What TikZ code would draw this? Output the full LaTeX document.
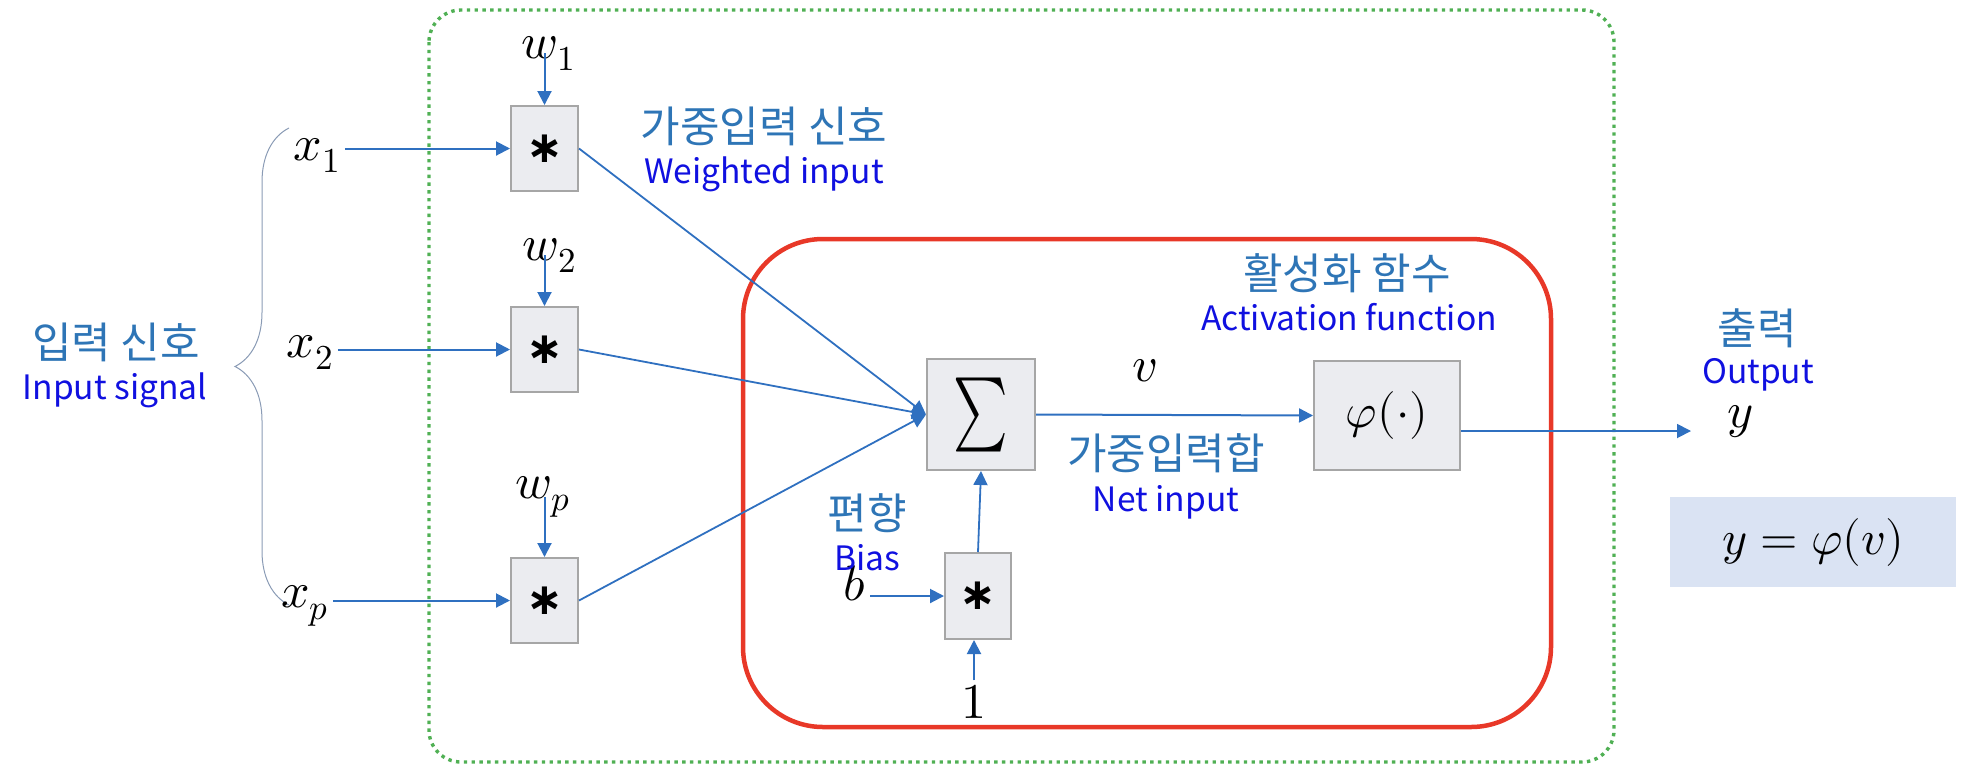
\documentclass[tikz,border=0pt]{standalone}
\usepackage{fontspec}
\usepackage{unicode-math}
\setmathfont{Latin Modern Math}
\newfontfamily\hangul{Noto Sans CJK KR}
\newfontfamily\dejavu{DejaVu Sans}
\usetikzlibrary{arrows.meta,               % .
                decorations.pathreplacing} % .
\definecolor{lineblue}{RGB}{47,112,192}
\definecolor{korblue}{RGB}{46,117,182}
\definecolor{engblue}{RGB}{16,16,224}
\definecolor{boxgray}{RGB}{235,236,240}
\definecolor{edgegray}{RGB}{166,166,166}
\definecolor{framered}{RGB}{232,56,40}
\definecolor{dotgreen}{RGB}{80,176,84}
\definecolor{eqfill}{RGB}{218,227,243}
\definecolor{bracegray}{RGB}{138,155,181}

\begin{document}
\begin{tikzpicture}[x=0.5pt,y=-0.5pt]
                % define styles
\tikzset{mult/.style={rectangle,
                      draw=edgegray,
                      fill=boxgray,
                      line width=1pt,
                      inner sep=0,
                      minimum width=33.5pt,
                      minimum height=42.5pt,
                      font=\dejavu\bfseries\fontsize{22}{22}\selectfont,
                      },
         block/.style={rectangle,
                      draw=edgegray,
                      fill=boxgray,
                      line width=1pt,
                      inner sep=0,
                      },
         sym/.style={inner sep=2pt, font=\fontsize{25}{25}\selectfont},
         kor/.style={inner sep=0, text=korblue, font=\hangul\fontsize{21.5}{22}\selectfont},
         eng/.style={inner sep=0, text=engblue, font=\hangul\fontsize{16.8}{17}\selectfont},
         arr/.style={draw=lineblue, line width=1pt, -{Triangle[length=7pt,width=7pt]}}
}

\useasboundingbox (0,0) rectangle (1974,772);

% frames
\draw[dotgreen, line width=1.7pt, dash pattern=on 1.7pt off 2.2pt, rounded corners=16pt]
    (429,10) rectangle (1614,762);
\draw[framered, line width=2.25pt, rounded corners=40pt]
    (743,239) rectangle (1551,727);

% brace
\draw[bracegray, line width=0.5pt, decorate, decoration={brace, amplitude=27pt}]
    (289,605) -- (289,128);

% nodes
\node[block, minimum width=54pt, minimum height=55.5pt, font=\fontsize{37}{37}\selectfont]
    (sigma) at (981,414.5) {\scalebox{0.7}[1]{$\sum$}};
\node[block, minimum width=73pt, minimum height=54.5pt, font=\fontsize{24}{24}\selectfont]
    (phi) at (1387,415.5) {$\varphi(\cdot)$};
\node[mult, minimum width=33pt, minimum height=43pt] (mb) at (978,596) {∗};
\node[fill=eqfill, minimum width=143pt, minimum height=45pt, font=\fontsize{24}{24}\selectfont]
    (eq) at (1813,542) {$y=\varphi(v)$};

% inputs and weights
\foreach \i/\yb/\xb/\xc/\wb/\wc in {1/148.5/160/317/58/549,
                                    2/349.5/357/310/260/550,
                                    p/600.5/607/305/498/543}
{
    \node[mult] (m\i) at (544.5,\yb) {∗};
    \node[sym, anchor=base] (x\i) at (\xc,\xb) {$x_\i$};
    \node[sym, anchor=base] (w\i) at (\wc,\wb) {$w_\i$};
    \draw[arr] (x\i.east |- m\i.west) -- (m\i.west);
    \draw[arr] (m\i.north |- w\i.center) -- (m\i.north);
    \draw[arr, line width=0.9pt] (m\i.east) -- (sigma.west);
}

% symbols
\node[sym, anchor=base] (b)   at (855,600)  {$b$};
\node[sym, anchor=base] (one) at (974,718)  {$1$};
\node[sym, anchor=base] (v)   at (1145,381) {$v$};
\node[sym, anchor=base] (y)   at (1740,427) {$y$};
\coordinate (yend) at (1691,431);

% connectors
\draw[arr] (b.east |- mb.west) -- (mb.west);
\draw[arr] (one.north) -- (one.north |- mb.south);
\draw[arr, line width=0.9pt] (mb.north) -- (sigma.south);
\draw[arr] (sigma.east) -- (phi.west);
\draw[arr, line width=0.9pt] (phi.east |- yend) -- (yend);

% labels
\node[kor] (inkor) at (116,342)   {입력 신호};
\node[eng] (ineng) at (115,390)   {Input signal};
\node[kor] (wkor)  at (764,126.5) {가중입력 신호};
\node[eng] (weng)  at (764,174.5) {Weighted input};
\node[kor] (akor)  at (1347,273)  {활성화 함수};
\node[eng] (aeng)  at (1349,317.5){Activation function};
\node[kor] (nkor)  at (1166,453)  {가중입력합};
\node[eng] (neng)  at (1166,502)  {Net input};
\node[kor] (bkor)  at (867,513)   {편향};
\node[eng] (beng)  at (867,558)   {Bias};
\node[kor] (okor)  at (1757,328)  {출력};
\node[eng] (oeng)  at (1758,375)  {Output};

\end{tikzpicture}
\end{document}
